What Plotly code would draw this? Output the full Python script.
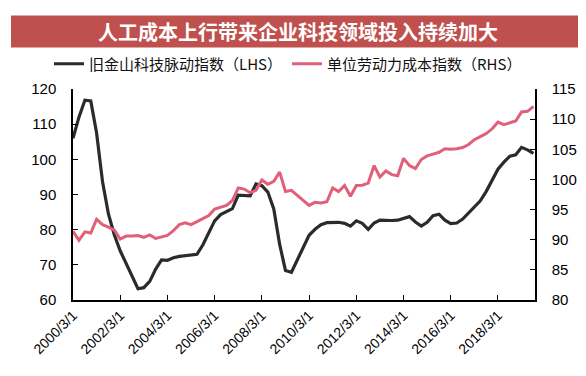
import pandas as pd
import plotly.graph_objects as go

dates = pd.date_range("2000-03-01", periods=79, freq="3MS")

sf_tech_pulse = [106, 112, 116.8, 116.6, 107.5, 93.6, 84.4, 78.5, 74, 70.5,
                 67.1, 63.2, 63.5, 65.3, 68.8, 71.4, 71.3, 72.0, 72.4, 72.6,
                 72.8, 73, 75.7, 79.2, 82.5, 84.3, 85.2, 86, 89.8, 89.6,
                 89.6, 93, 92.5, 90.7, 85.9, 75.8, 68.4, 67.9, 71.6, 75.0,
                 78.4, 80.1, 81.4, 82, 82.1, 82.1, 81.8, 81, 82.5, 81.8,
                 80.1, 81.9, 82.7, 82.6, 82.6, 82.7, 83.1, 83.7, 82.2, 81,
                 82.1, 84, 84.4, 82.7, 81.7, 81.9, 83, 84.7, 86.3, 88.2,
                 90.9, 94.2, 97.2, 99.2, 100.9, 101.3, 103.4, 102.7, 101.7]

unit_labor_cost = [91.4, 89.9, 91.3, 91.1, 93.4, 92.5, 92.1, 91.6, 90.1, 90.6,
                   90.6, 90.7, 90.4, 90.8, 90.2, 90.5, 90.7, 91.5, 92.5, 92.8,
                   92.5, 93, 93.5, 94, 95.1, 95.4, 95.7, 96.5, 98.6, 98.4,
                   97.8, 98.2, 99.9, 99.2, 99.7, 101.2, 98, 98.2, 97.4, 96.6,
                   95.7, 96.2, 96.1, 96.3, 98.6, 98, 99, 97.2, 99, 99.05,
                   99.4, 102.3, 100.4, 101.4, 100.8, 100.6, 103.5, 102.3, 101.8, 103.3,
                   103.9, 104.2, 104.5, 105.1, 105, 105.1, 105.3, 105.8, 106.6, 107.1,
                   107.6, 108.4, 109.5, 109.1, 109.4, 109.7, 111.2, 111.3, 112.1]

tick_dates = ["2000-03-01", "2002-03-01", "2004-03-01", "2006-03-01", "2008-03-01",
              "2010-03-01", "2012-03-01", "2014-03-01", "2016-03-01", "2018-03-01"]
tick_labels = ["2000/3/1", "2002/3/1", "2004/3/1", "2006/3/1", "2008/3/1",
               "2010/3/1", "2012/3/1", "2014/3/1", "2016/3/1", "2018/3/1"]

title_text = "人工成本上行带来企业科技领域投入持续加大"
name_left = "旧金山科技脉动指数（LHS）"
name_right = "单位劳动力成本指数（RHS）"

BLACK = "#2b2b2b"
PINK = "#e0607a"
BANNER = "#c0504d"
FONT = "Liberation Sans, Arial, Noto Sans CJK SC, sans-serif"
CJK = "Noto Sans CJK SC, Liberation Sans, sans-serif"

fig = go.Figure()
fig.add_trace(go.Scatter(x=dates, y=sf_tech_pulse, name=name_left, mode="lines",
                         line=dict(color=BLACK, width=3.2), yaxis="y"))
fig.add_trace(go.Scatter(x=dates, y=unit_labor_cost, name=name_right, mode="lines",
                         line=dict(color=PINK, width=3), yaxis="y2"))

W, H = 586, 376
L, R, T, B = 65, 59, 81, 84
pw = W - L - R
ph = H - T - B

def px(xp):
    return (xp - L) / pw

def py(yp):
    return (H - B - yp) / ph

fig.add_shape(type="rect", xref="paper", yref="paper",
              x0=px(3), x1=px(576), y0=py(39.5), y1=py(7.5),
              fillcolor=BANNER, line=dict(width=0), layer="below")
fig.add_annotation(xref="paper", yref="paper", x=px(290), y=py(23.5),
                   xanchor="center", yanchor="middle", showarrow=False,
                   text="<b>" + title_text + "</b>",
                   font=dict(family=CJK, size=20, color="white"))

fig.update_layout(
    width=W, height=H,
    margin=dict(l=L, r=R, t=T, b=B),
    paper_bgcolor="white", plot_bgcolor="white",
    showlegend=True,
    legend=dict(orientation="h", x=px(41), y=py(56), xanchor="left", yanchor="middle",
                font=dict(family=CJK, size=15, color="#111111"),
                itemwidth=30, tracegroupgap=0, bgcolor="rgba(0,0,0,0)"),
    xaxis=dict(type="date", range=["2000-03-01", "2019-09-25"],
               tickvals=tick_dates, ticktext=tick_labels, tickangle=-45,
               ticks="inside", ticklen=5, tickcolor="black",
               showline=True, linecolor="black", linewidth=1.5,
               showgrid=False, zeroline=False,
               tickfont=dict(family=FONT, size=14, color="black")),
    yaxis=dict(range=[60, 120], dtick=10, ticks="inside", ticklen=5, tickcolor="black",
               showline=True, linecolor="black", linewidth=1.5,
               showgrid=False, zeroline=False, ticklabelstandoff=12,
               tickfont=dict(family=FONT, size=15, color="black")),
    yaxis2=dict(range=[80, 115], dtick=5, overlaying="y", side="right",
                ticks="inside", ticklen=5, tickcolor="black",
                showline=True, linecolor="black", linewidth=1.5,
                showgrid=False, zeroline=False, ticklabelstandoff=12,
                tickfont=dict(family=FONT, size=15, color="black")),
)

fig.write_html("out.html")
